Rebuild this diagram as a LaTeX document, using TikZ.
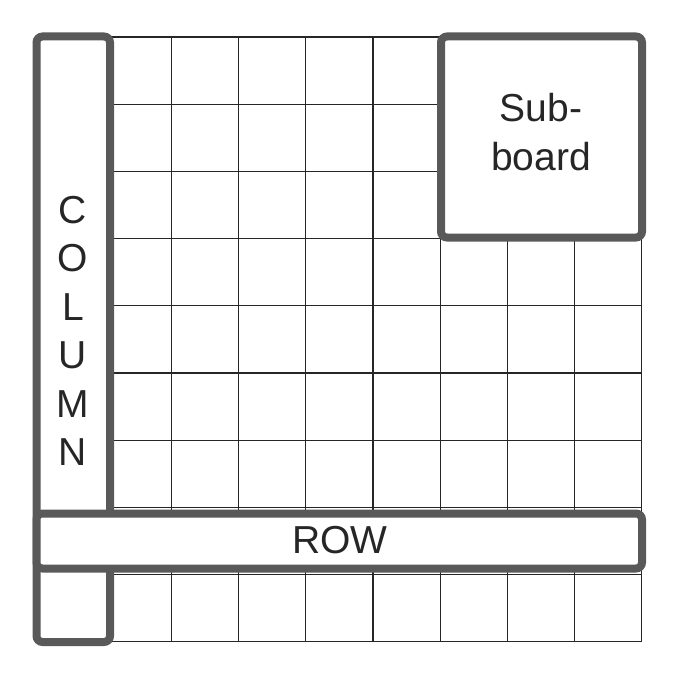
\documentclass[tikz,border=0pt]{standalone}
\usepackage{fontspec}
\setmainfont{Liberation Sans}
\definecolor{boxgray}{HTML}{595959}
\tikzset{
  cellline/.style={line width=1.2pt, draw=black!85},
  bigbox/.style={line width=8pt, draw=boxgray, fill=white, rounded corners=6pt},
  lbl/.style={font=\fontsize{39}{48.5}\selectfont, text=black!85, align=center, inner sep=0pt},
}
\begin{document}
\begin{tikzpicture}[x=1pt,y=-1pt]
	\useasboundingbox (0,0) rectangle (679,679);
	% board cells
	\foreach \i in {0,...,9}{
		\draw [cellline] ({37+67.2*\i},37) -- ({37+67.2*\i},642);
		\draw [cellline] (37,{37+67.2*\i}) -- (642,{37+67.2*\i});
	}
	% column, sub-board, row
	\draw [bigbox] (36.5,36.5) rectangle (110,642);
	\draw [bigbox] (441,36.5) rectangle (642,237.5);
	\draw [bigbox] (36.5,513.5) rectangle (642,568.5);
	\node [lbl] (column) at (73,331) {C\\O\\L\\U\\M\\N};
	\node [lbl] (subboard) at (541,132) {Sub-\\board};
	\node [lbl] (row) at (340,540) {ROW};
\end{tikzpicture}
\end{document}
